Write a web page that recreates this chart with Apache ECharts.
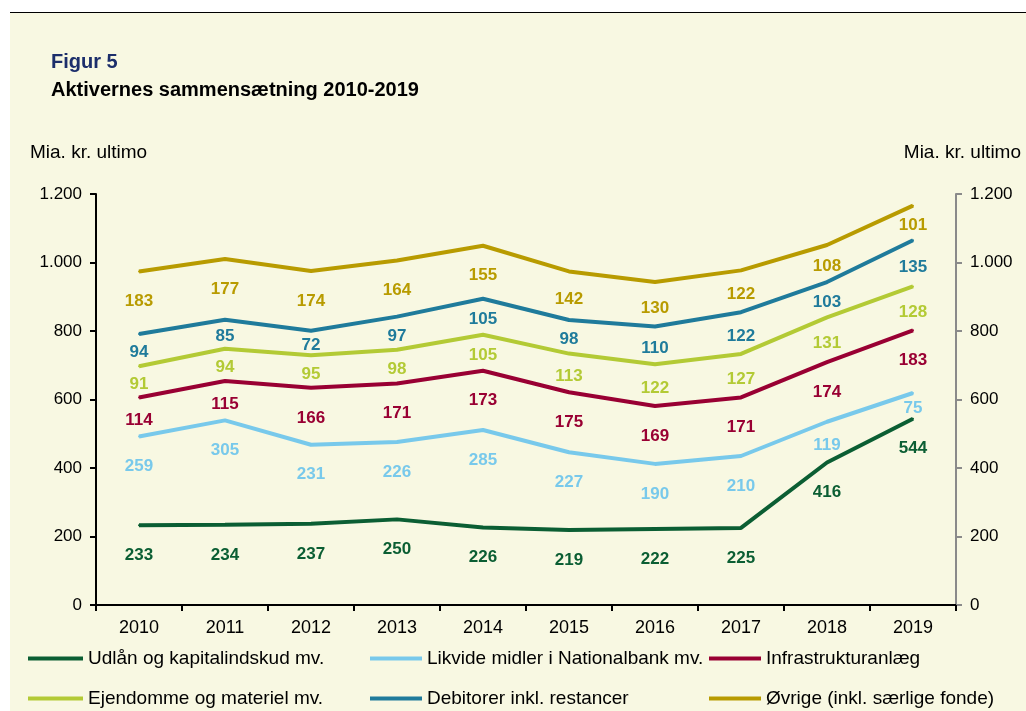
<!DOCTYPE html>
<html>
<head>
<meta charset="utf-8">
<script src="https://cdn.jsdelivr.net/npm/echarts@6/dist/echarts.min.js"></script>
<style>
  html, body { margin: 0; padding: 0; background: #fff; }
  #chart { width: 1026px; height: 711px; }
</style>
</head>
<body>
<div id="chart"></div>
<script>
var years = ['2010','2011','2012','2013','2014','2015','2016','2017','2018','2019'];

var udlaan    = [233, 234, 237, 250, 226, 219, 222, 225, 416, 544];
var likvide   = [259, 305, 231, 226, 285, 227, 190, 210, 119, 75];
var infra     = [114, 115, 166, 171, 173, 175, 169, 171, 174, 183];
var ejendomme = [91, 94, 95, 98, 105, 113, 122, 127, 131, 128];
var debitorer = [94, 85, 72, 97, 105, 98, 110, 122, 103, 135];
var oevrige   = [183, 177, 174, 164, 155, 142, 130, 122, 108, 101];

var names = [
  'Udlån og kapitalindskud mv.',
  'Likvide midler i Nationalbank mv.',
  'Infrastrukturanlæg',
  'Ejendomme og materiel mv.',
  'Debitorer inkl. restancer',
  'Øvrige (inkl. særlige fonde)'
];
var colors = ['#0b5e33', '#78c9eb', '#990033', '#b3ca35', '#1f7b9b', '#b89b00'];
var values = [udlaan, likvide, infra, ejendomme, debitorer, oevrige];

var font = 'Liberation Sans, Arial, sans-serif';
var cream = '#f8f8e2';

var gridTop = 194, gridBottom = 106, chartH = 711, yMax = 1200;
var pxPerUnit = (chartH - gridTop - gridBottom) / yMax;

var chart = echarts.init(document.getElementById('chart'));

// label sits below its line, pulled up into the band when the band is narrow
var series = values.map(function (v, i) {
  return {
    name: names[i],
    type: 'line',
    stack: 'total',
    symbol: 'circle',
    symbolSize: 2,
    data: v.map(function (val) {
      var dy = Math.min(30, val * pxPerUnit * 0.58);
      return { value: val, label: { offset: [0, dy] } };
    }),
    lineStyle: { color: colors[i], width: 4 },
    itemStyle: { color: colors[i] },
    label: {
      show: true,
      position: 'inside',
      color: colors[i],
      fontFamily: font,
      fontWeight: 'bold',
      fontSize: 17
    }
  };
});

function legendCol(left, w, items) {
  return {
    left: left,
    top: 649,
    height: 62,
    padding: 0,
    orient: 'vertical',
    itemGap: 21,
    icon: 'rect',
    itemWidth: w,
    itemHeight: 4,
    data: items,
    textStyle: { fontFamily: font, fontSize: 19, color: '#000', lineHeight: 18 },
    selectedMode: false
  };
}

chart.setOption({
  backgroundColor: '#fff',
  animation: false,
  graphic: [
    { type: 'rect', z: -10, shape: { x: 10, y: 13, width: 1016, height: 698 }, style: { fill: cream } },
    { type: 'line', z: -10, shape: { x1: 10, y1: 12.5, x2: 1026, y2: 12.5 }, style: { stroke: '#000', lineWidth: 1 } }
  ],
  title: [
    { text: 'Figur 5', left: 46, top: 47, textStyle: { fontFamily: font, fontSize: 20, fontWeight: 'bold', color: '#1c2e6b' } },
    { text: 'Aktivernes sammensætning 2010-2019', left: 46, top: 75, textStyle: { fontFamily: font, fontSize: 20, fontWeight: 'bold', color: '#000' } },
    { text: 'Mia. kr. ultimo', left: 25, top: 138, textStyle: { fontFamily: font, fontSize: 19, fontWeight: 'normal', color: '#000' } },
    { text: 'Mia. kr. ultimo', right: 0, top: 138, textStyle: { fontFamily: font, fontSize: 19, fontWeight: 'normal', color: '#000' } }
  ],
  legend: [
    legendCol(28, 55, [names[0], names[3]]),
    legendCol(370, 52, [names[1], names[4]]),
    legendCol(709, 52, [names[2], names[5]])
  ],
  grid: { left: 96, right: 70, top: gridTop, bottom: gridBottom },
  xAxis: {
    type: 'category',
    data: years,
    boundaryGap: true,
    axisLine: { lineStyle: { color: '#000', width: 2 } },
    axisTick: { show: true, length: 6, lineStyle: { color: '#000', width: 2 } },
    axisLabel: { fontFamily: font, fontSize: 18, color: '#000', margin: 14 }
  },
  yAxis: [
    {
      type: 'value', min: 0, max: yMax, interval: 200, position: 'left',
      axisLine: { show: true, lineStyle: { color: '#000', width: 2 } },
      axisTick: { show: true, length: 6, lineStyle: { color: '#000', width: 2 } },
      splitLine: { show: false },
      axisLabel: {
        fontFamily: font, fontSize: 17, color: '#000', margin: 14,
        formatter: function (v) { return v >= 1000 ? (v / 1000).toFixed(3) : String(v); }
      }
    },
    {
      type: 'value', min: 0, max: yMax, interval: 200, position: 'right',
      axisLine: { show: true, lineStyle: { color: '#8a8a8a', width: 2 } },
      axisTick: { show: true, length: 6, lineStyle: { color: '#8a8a8a', width: 2 } },
      splitLine: { show: false },
      axisLabel: {
        fontFamily: font, fontSize: 17, color: '#000', margin: 14,
        formatter: function (v) { return v >= 1000 ? (v / 1000).toFixed(3) : String(v); }
      }
    }
  ],
  series: series
});
</script>
</body>
</html>
